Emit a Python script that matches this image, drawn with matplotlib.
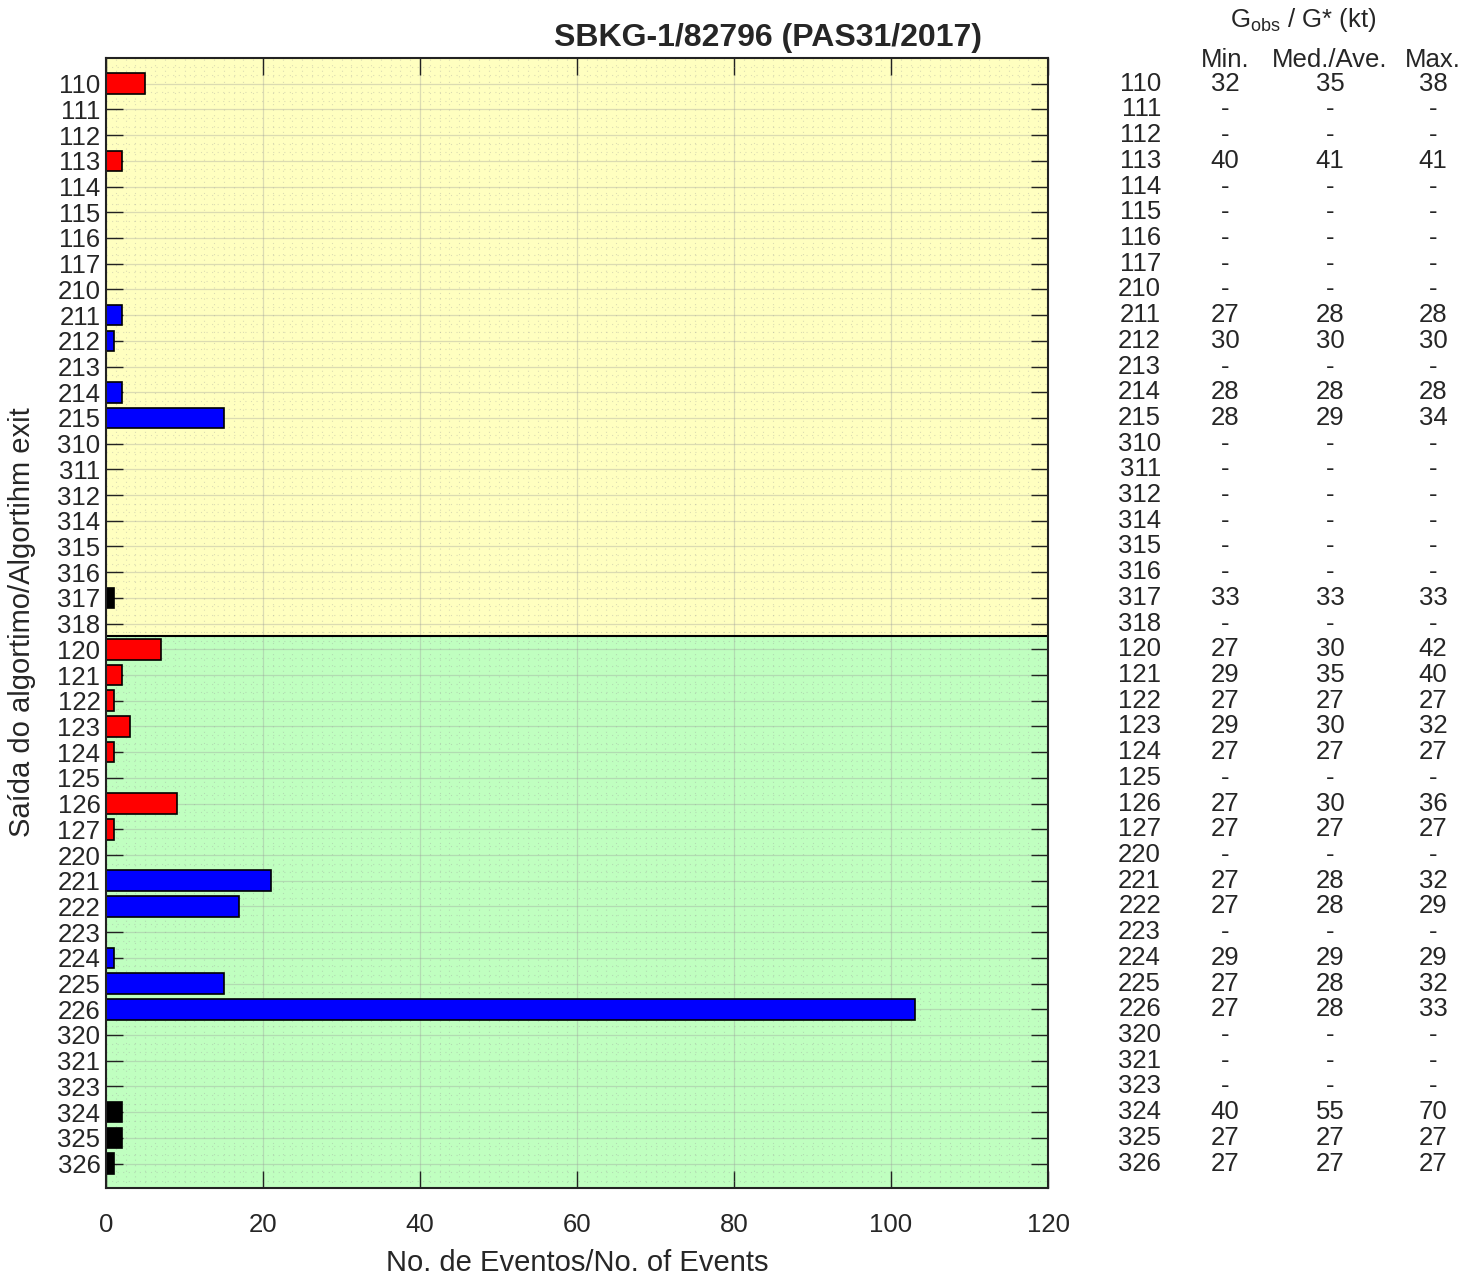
import matplotlib
matplotlib.use("Agg")
import matplotlib.pyplot as plt
import matplotlib.transforms as mtransforms
import numpy as np
from matplotlib.ticker import MultipleLocator

plt.rcParams['font.family'] = ['Liberation Sans', 'DejaVu Sans']

codes = ['110', '111', '112', '113', '114', '115', '116', '117', '210', '211', '212', '213',
         '214', '215', '310', '311', '312', '314', '315', '316', '317', '318',
         '120', '121', '122', '123', '124', '125', '126', '127', '220', '221', '222', '223',
         '224', '225', '226', '320', '321', '323', '324', '325', '326']
counts = [5, 0, 0, 2, 0, 0, 0, 0, 0, 2, 1, 0, 2, 15, 0, 0, 0, 0, 0, 0, 1, 0,
          7, 2, 1, 3, 1, 0, 9, 1, 0, 21, 17, 0, 1, 15, 103, 0, 0, 0, 2, 2, 1]
g_min = ['32', '-', '-', '40', '-', '-', '-', '-', '-', '27', '30', '-', '28', '28',
         '-', '-', '-', '-', '-', '-', '33', '-',
         '27', '29', '27', '29', '27', '-', '27', '27', '-', '27', '27', '-', '29', '27', '27',
         '-', '-', '-', '40', '27', '27']
g_med = ['35', '-', '-', '41', '-', '-', '-', '-', '-', '28', '30', '-', '28', '29',
         '-', '-', '-', '-', '-', '-', '33', '-',
         '30', '35', '27', '30', '27', '-', '30', '27', '-', '28', '28', '-', '29', '28', '28',
         '-', '-', '-', '55', '27', '27']
g_max = ['38', '-', '-', '41', '-', '-', '-', '-', '-', '28', '30', '-', '28', '34',
         '-', '-', '-', '-', '-', '-', '33', '-',
         '42', '40', '27', '32', '27', '-', '36', '27', '-', '32', '29', '-', '29', '32', '33',
         '-', '-', '-', '70', '27', '27']
n_top = 22  # first block (yellow)

TXT = '#262626'
FS = 18.5

fig = plt.figure(figsize=(14.79, 12.8), dpi=100)
ax = fig.add_axes([0.0717, 0.0719, 0.6369, 0.8828])

n = len(codes)
y = np.arange(n)
colors = [{'1': '#ff0000', '2': '#0000ff', '3': '#000000'}[c[0]] for c in codes]

ax.axhspan(-1, n_top - 0.5, color='#ffffc0', zorder=0)
ax.axhspan(n_top - 0.5, n, color='#c0ffc0', zorder=0)
ax.axhline(n_top - 0.5, color='black', lw=1.5, zorder=3)

ax.barh(y, counts, height=0.8, color=colors, edgecolor='black', linewidth=1.2, zorder=4)

ax.set_xlim(0, 120)
ax.set_ylim(n - 0.05, -0.97)
ax.set_yticks(y)
ax.set_yticklabels(codes, fontsize=FS)
ax.set_xticks(np.arange(0, 121, 20))
ax.set_xticklabels([str(v) for v in range(0, 121, 20)], fontsize=FS)
ax.xaxis.set_minor_locator(MultipleLocator(1.25))
ax.set_yticks(np.arange(-1, n, 1 / 3.0), minor=True)
ax.tick_params(axis='both', which='major', direction='in', length=12, width=1,
               top=True, right=True, color='#222222', labelcolor=TXT)
ax.tick_params(axis='x', which='major', pad=18)
ax.tick_params(axis='y', which='major', pad=4)
ax.tick_params(axis='both', which='minor', length=0)
ax.grid(True, which='major', color='#999999', alpha=0.35, lw=0.9, zorder=1)
ax.grid(True, which='minor', color='#999999', alpha=0.35, lw=0.8, ls=(0, (1, 4)), zorder=1)
ax.set_axisbelow(True)
for s in ax.spines.values():
    s.set_linewidth(1.5)
    s.set_color('#222222')
    s.set_zorder(5)

fig.text(577 / 1479, 1 - 1263 / 1280, 'No. de Eventos/No. of Events', fontsize=21,
         ha='center', va='center', color=TXT)
fig.text(22 / 1479, 1 - 622 / 1280, 'Saída do algortimo/Algortihm exit', fontsize=21,
         ha='center', va='center', rotation=90, color=TXT)

fig.text(768 / 1479, 1 - 38 / 1280, 'SBKG-1/82796 (PAS31/2017)', fontsize=23,
         fontweight='bold', ha='center', va='center', color=TXT)

# right table
tr = mtransforms.blended_transform_factory(fig.transFigure, ax.transData)
fig.text(1303 / 1479, 1 - 20 / 1280, r'G$_{\mathregular{obs}}$ / G* (kt)', fontsize=FS,
         ha='center', va='center', color=TXT)
fig.text(1225 / 1479, 1 - 60 / 1280, 'Min.', fontsize=FS, ha='center', va='center', color=TXT)
fig.text(1330 / 1479, 1 - 60 / 1280, 'Med./Ave.', fontsize=FS, ha='center', va='center', color=TXT)
fig.text(1433 / 1479, 1 - 60 / 1280, 'Max.', fontsize=FS, ha='center', va='center', color=TXT)
for i in range(n):
    kw = dict(transform=tr, fontsize=FS, va='center', color=TXT, clip_on=False)
    ax.text(1161 / 1479, i, codes[i], ha='right', **kw)
    ax.text(1225 / 1479, i, g_min[i], ha='center', **kw)
    ax.text(1330 / 1479, i, g_med[i], ha='center', **kw)
    ax.text(1433 / 1479, i, g_max[i], ha='center', **kw)

fig.savefig('out.png', dpi=100)
